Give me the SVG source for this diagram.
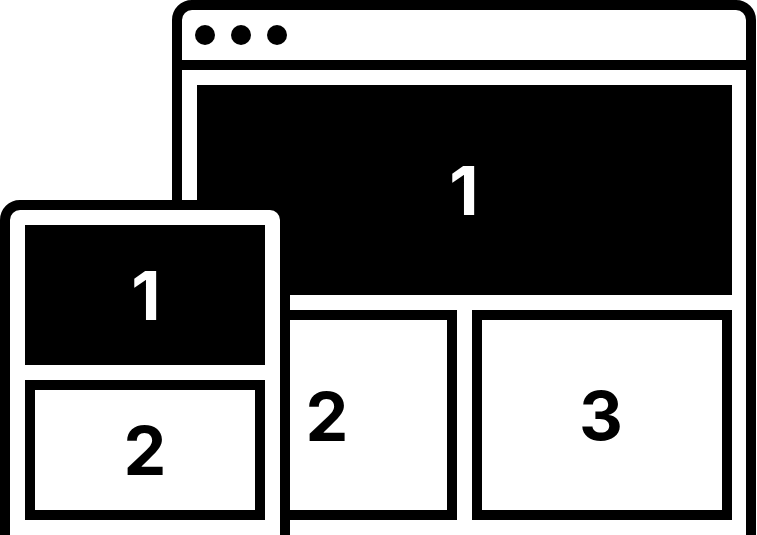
<svg xmlns="http://www.w3.org/2000/svg" width="757" height="535" viewBox="0 0 757 535">
<style>
.frame{fill:#fff;stroke:#000;stroke-width:10}
.box{fill:#fff;stroke:#000;stroke-width:10}
.solid{fill:#000}
.num{font-family:Inter,"Liberation Sans",sans-serif;font-weight:700;font-size:68px;text-anchor:middle}
.w{fill:#fff}
.k{fill:#000}
</style>
<rect width="757" height="535" fill="#fff"/>
<g id="desktop">
<rect class="frame" x="177" y="5" width="574" height="560" rx="15"/>
<line x1="177" y1="65" x2="751" y2="65" stroke="#000" stroke-width="10"/>
<circle class="solid" cx="205" cy="35" r="10"/>
<circle class="solid" cx="241" cy="35" r="10"/>
<circle class="solid" cx="277" cy="35" r="10"/>
</g>
<g id="desktop-1">
<rect class="solid" x="197" y="85" width="535" height="210"/>
<text class="num w" x="464" y="215">1</text>
</g>
<g id="desktop-2">
<rect class="box" x="220" y="315" width="232" height="200"/>
<text class="num k" x="327" y="441">2</text>
</g>
<g id="desktop-3">
<rect class="box" x="477" y="315" width="250" height="200"/>
<text class="num k" x="601" y="440">3</text>
</g>
<g id="phone">
<rect class="frame" x="5" y="205" width="280" height="360" rx="15"/>
</g>
<g id="phone-1">
<rect class="solid" x="25" y="225" width="240" height="140"/>
<text class="num w" x="146" y="320">1</text>
</g>
<g id="phone-2">
<rect class="box" x="30" y="385" width="230" height="130"/>
<text class="num k" x="145" y="475">2</text>
</g>
<g id="connectors"></g>
</svg>
